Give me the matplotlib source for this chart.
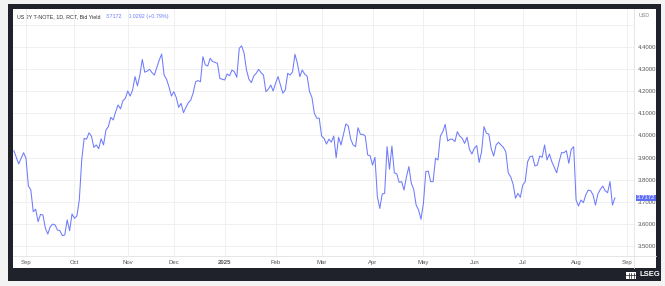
import numpy as np
import matplotlib
matplotlib.use("Agg")
import matplotlib.pyplot as plt
from matplotlib.patches import Rectangle

plt.rcParams['font.family'] = ['Liberation Sans', 'DejaVu Sans']

# ---------------- data ----------------
HOLIDAYS = ['2024-09-02', '2024-10-14', '2024-11-11', '2024-11-28', '2024-12-25',
            '2025-01-01', '2025-01-20', '2025-02-17', '2025-04-18', '2025-05-26',
            '2025-06-19', '2025-07-04', '2025-09-01']
FIRST_SESSION = '2024-09-03'

# trading-session index (0 = 2024-09-03)
session = [-5, -3, -1] + list(range(0, 131)) + list(range(132, 244))

yield_pct = [
    3.931, 3.871, 3.922, 3.897, 3.771, 3.753, 3.655, 3.666, 3.610, 3.643,
    3.640, 3.580, 3.554, 3.587, 3.599, 3.595, 3.572, 3.569, 3.547, 3.550,
    3.618, 3.569, 3.645, 3.625, 3.636, 3.708, 3.889, 3.987, 3.983, 4.012,
    3.997, 3.946, 3.957, 3.940, 3.985, 3.957, 4.025, 4.040, 4.082, 4.070,
    4.107, 4.138, 4.120, 4.157, 4.168, 4.201, 4.178, 4.206, 4.266, 4.224,
    4.273, 4.344, 4.286, 4.291, 4.299, 4.284, 4.273, 4.308, 4.341, 4.368,
    4.273, 4.254, 4.220, 4.178, 4.198, 4.172, 4.127, 4.145, 4.103, 4.127,
    4.148, 4.160, 4.193, 4.243, 4.248, 4.243, 4.356, 4.319, 4.314, 4.349,
    4.334, 4.331, 4.326, 4.258, 4.254, 4.251, 4.278, 4.270, 4.296, 4.288,
    4.263, 4.394, 4.405, 4.372, 4.296, 4.254, 4.239, 4.269, 4.281, 4.299,
    4.284, 4.273, 4.198, 4.209, 4.228, 4.201, 4.236, 4.266, 4.228, 4.191,
    4.206, 4.281, 4.273, 4.288, 4.367, 4.326, 4.266, 4.296, 4.277, 4.269,
    4.198, 4.172, 4.100, 4.078, 4.078, 3.997, 3.987, 3.961, 3.983, 3.970,
    3.997, 3.899, 3.992, 3.957, 4.052, 4.043, 3.983, 3.957, 3.949, 4.035,
    4.005, 4.005, 3.997, 3.912, 3.908, 3.866, 3.901, 3.723, 3.670, 3.735,
    3.738, 3.949, 3.847, 3.952, 3.831, 3.826, 3.788, 3.791, 3.753, 3.813,
    3.859, 3.784, 3.756, 3.685, 3.663, 3.621, 3.693, 3.836, 3.839, 3.791,
    3.791, 3.897, 3.889, 3.997, 4.017, 4.050, 3.975, 3.983, 3.983, 3.972,
    4.017, 3.997, 3.987, 3.964, 3.992, 3.937, 3.916, 3.942, 3.954, 3.878,
    3.926, 4.040, 4.010, 4.006, 3.939, 3.907, 3.957, 3.969, 3.957, 3.946,
    3.926, 3.831, 3.813, 3.780, 3.716, 3.738, 3.720, 3.776, 3.791, 3.881,
    3.904, 3.907, 3.862, 3.866, 3.907, 3.901, 3.957, 3.889, 3.916, 3.881,
    3.856, 3.831, 3.881, 3.922, 3.922, 3.931, 3.874, 3.937, 3.949, 3.708,
    3.681, 3.708, 3.696, 3.731, 3.753, 3.750, 3.731, 3.685, 3.735, 3.756,
    3.771, 3.750, 3.741, 3.791, 3.685, 3.7172,
]

month_labels = ['Sep', 'Oct', 'Nov', 'Dec', '2025', 'Feb', 'Mar', 'Apr', 'May',
                'Jun', 'Jul', 'Aug', 'Sep']
month_starts = ['2024-09-01', '2024-10-01', '2024-11-01', '2024-12-01', '2025-01-01',
                '2025-02-01', '2025-03-01', '2025-04-01', '2025-05-01', '2025-06-01',
                '2025-07-01', '2025-08-01', '2025-09-01']
y_ticks = [3.5, 3.6, 3.7, 3.8, 3.9, 4.0, 4.1, 4.2, 4.3, 4.4, 4.5]
y_labels = ['3.5000', '3.6000', '3.7000', '3.8000', '3.9000', '4.0000', '4.1000',
            '4.2000', '4.3000', '4.4000', '']

title = 'US 2Y T-NOTE, 1D, RCT, Bid Yield'
last_value = '3.7172'
change_text = '0.0292 (+0.79%)'
currency = 'USD'

# ---------------- figure ----------------
W, H = 665, 286
fig = plt.figure(figsize=(W / 100, H / 100), dpi=100, facecolor='#f3f3f3')

bg = fig.add_axes([0, 0, 1, 1], zorder=0)
bg.set_xlim(0, W)
bg.set_ylim(H, 0)
bg.axis('off')
dark = '#1f222a'
bg.add_patch(Rectangle((8, 4), 653, 277, color=dark, lw=0))
bg.add_patch(Rectangle((13, 9), 643, 259, color='white', lw=0))
# axis separators
bg.plot([634, 634], [9, 268], color='#e2e2e2', lw=0.6)
bg.plot([13, 656], [256, 256], color='#e2e2e2', lw=0.6)

LINE = '#6e7bfb'
t_title = bg.text(17, 16.5, title, fontsize=3.9, color='#333333', va='center', ha='left')
t_last = bg.annotate(last_value, xy=(1, 0.5), xycoords=t_title, xytext=(4, 0),
                     textcoords='offset points', fontsize=3.9, color=LINE,
                     va='center', ha='left')
bg.annotate(change_text, xy=(1, 0.5), xycoords=t_last, xytext=(4, 0),
            textcoords='offset points', fontsize=3.9, color=LINE,
            va='center', ha='left')
bg.text(644, 15.5, currency, fontsize=3.9, color='#888888', va='center', ha='center')

# LSEG logo
bg.add_patch(Rectangle((626, 271.5), 10, 7, color='white', lw=0))
for xx in (628.5, 631, 633.5):
    bg.plot([xx, xx], [272.5, 277.5], color=dark, lw=0.5)
bg.plot([626, 636], [275, 275], color=dark, lw=0.5)
bg.text(639, 275, 'LSEG', fontsize=5.5, color='white', fontweight='bold',
        va='center', ha='left')

# ---------------- main chart ----------------
ax = fig.add_axes([13 / W, (H - 256) / H, 621 / W, 247 / H], zorder=1)
ax.set_facecolor('none')

first_sessions = np.busday_offset(np.array(month_starts, dtype='datetime64[D]'), 0,
                                  roll='forward', holidays=HOLIDAYS)
tick_pos = np.busday_count(np.datetime64(FIRST_SESSION), first_sessions,
                           holidays=HOLIDAYS)

ax.plot(session, yield_pct, color=LINE, lw=0.75, zorder=3, solid_joinstyle='round')

ax.set_xlim(-5.36, 250.9)
ax.set_ylim(3.4547, 4.5719)
ax.set_xticks(tick_pos)
ax.set_xticklabels(month_labels)
for lbl in ax.get_xticklabels():
    if lbl.get_text() == '2025':
        lbl.set_fontweight('bold')
        lbl.set_color('#333333')
ax.set_yticks(y_ticks)
ax.set_yticklabels(y_labels)
ax.yaxis.tick_right()
ax.tick_params(axis='x', length=0, pad=2.6, labelsize=4.3, labelcolor='#555555')
ax.tick_params(axis='y', length=0, pad=3.0, labelsize=4.3, labelcolor='#555555')
ax.grid(True, color='#eeeeee', lw=0.6, zorder=0)
for sp in ax.spines.values():
    sp.set_visible(False)

# last value marker on the price axis
last = yield_pct[-1]
ax.annotate(last_value, xy=(1.0, last), xycoords=('axes fraction', 'data'),
            xytext=(2.2, 0), textcoords='offset points', fontsize=4.3, color='white',
            va='center', ha='left', annotation_clip=False, zorder=5,
            bbox=dict(boxstyle='square,pad=0.15', fc='#5f6ff7', ec='none'))

fig.savefig('out.png', dpi=100, facecolor=fig.get_facecolor())
